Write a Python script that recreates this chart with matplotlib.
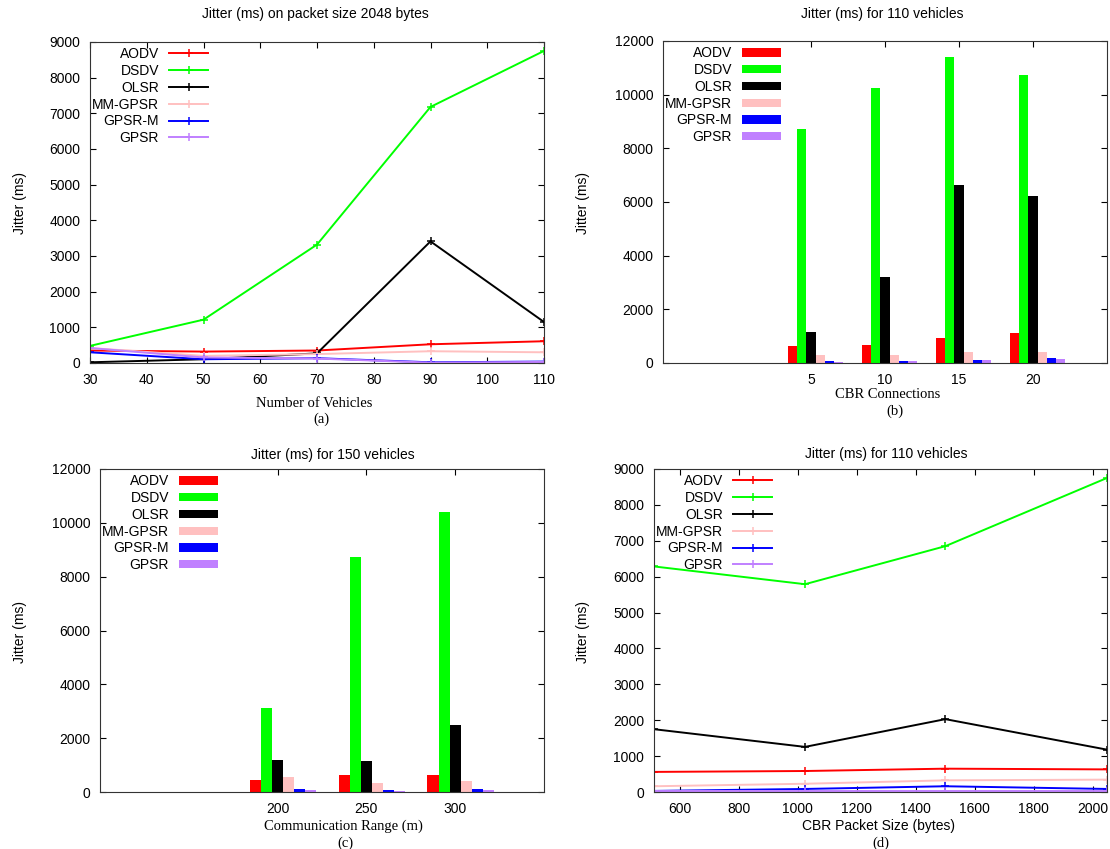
# -*- coding: utf-8 -*-
"""
Jitter comparison of AODV, DSDV, OLSR, MM-GPSR, GPSR-M and GPSR.
Four panels: vehicles, CBR connections, communication range and packet size.
"""

import numpy as np
import matplotlib
matplotlib.use("Agg")
import matplotlib.pyplot as plt

plt.rcParams['font.family'] = ['Liberation Sans', 'DejaVu Sans']
plt.rcParams['font.size'] = 10

protocols = ["AODV", "DSDV", "OLSR", "MM-GPSR", "GPSR-M", "GPSR"]
colors = ["#ff0000", "#00ff00", "#000000", "#ffc0c0", "#0000ff", "#c080ff"]

# (a) jitter vs number of vehicles, packet size 2048 bytes
vehicles = [30, 50, 70, 90, 110]
jitter_vehicles = [
    [350, 320, 350, 525, 610],       # AODV
    [480, 1215, 3320, 7180, 8750],   # DSDV
    [20, 105, 270, 3410, 1150],      # OLSR
    [420, 200, 250, 330, 300],       # MM-GPSR
    [300, 105, 135, 20, 40],         # GPSR-M
    [420, 155, 125, 10, 30],         # GPSR
]

# (b) jitter vs CBR connections, 110 vehicles
connections = ["5", "10", "15", "20"]
jitter_connections = [
    [620, 680, 920, 1130],
    [8720, 10250, 11400, 10745],
    [1150, 3190, 6625, 6230],
    [310, 285, 400, 420],
    [60, 60, 100, 200],
    [30, 90, 125, 135],
]

# (c) jitter vs communication range, 150 vehicles
ranges = ["200", "250", "300"]
jitter_ranges = [
    [435, 645, 645],
    [3125, 8735, 10420],
    [1200, 1165, 2495],
    [570, 335, 410],
    [100, 60, 100],
    [60, 40, 70],
]

# (d) jitter vs CBR packet size, 110 vehicles
packet_sizes = [512, 1024, 1500, 2048]
jitter_packets = [
    [560, 585, 650, 630],
    [6285, 5790, 6850, 8750],
    [1750, 1257, 2030, 1180],
    [160, 230, 325, 345],
    [30, 85, 160, 85],
    [20, 20, 20, 20],
]

W, H = 1110, 849
fig = plt.figure(figsize=(W / 100, H / 100), dpi=100)


def frame(left, top, right, bottom):
    """Axes from pixel edges."""
    ax = fig.add_axes([left / W, 1 - bottom / H, (right - left) / W,
                       (bottom - top) / H])
    for sp in ax.spines.values():
        sp.set_linewidth(0.8)
        sp.set_color("#333333")
    ax.tick_params(direction='in', top=True, right=True, length=4,
                   width=0.8, pad=7, labelsize=10)
    return ax


def put(x, y, s, **kw):
    fig.text(x / W, 1 - y / H, s, ha='center', va='center', **kw)


def legend(ax, **kw):
    ax.legend(loc='upper left', bbox_to_anchor=(0, 0.99), frameon=False,
              markerfirst=False, handlelength=2.85, handletextpad=0.7,
              labelspacing=0.2, borderpad=0.15, borderaxespad=0,
              fontsize=10, **kw)


def lines(ax, x, series):
    for name, vals, c in zip(protocols, series, colors):
        ax.plot(x, vals, color=c, lw=1.4, marker='+', ms=6, mew=1.1,
                label=name)
    legend(ax)


def bars(ax, labels, series):
    idx = np.arange(len(labels))
    width = 0.125
    for i, (name, vals, c) in enumerate(zip(protocols, series, colors)):
        ax.bar(idx + (i - 2) * width, vals, width, color=c, lw=0, label=name)
    ax.set_xticks(idx)
    ax.set_xticklabels(labels)
    legend(ax, handleheight=0.55)


serif = dict(family=['Liberation Serif', 'DejaVu Serif'], fontsize=10.5)

# (a)
ax = frame(90, 42, 544, 363)
lines(ax, vehicles, jitter_vehicles)
ax.set_xlim(30, 110)
ax.set_ylim(0, 9000)
ax.set_yticks(range(0, 9001, 1000))
put(315, 14, "Jitter (ms) on packet size 2048 bytes")
put(20, 203, "Jitter (ms)", rotation=90)
put(314, 403, "Number of Vehicles", **serif)
put(321, 419, "(a)", **serif)

# (b)
ax = frame(663, 41, 1107, 363)
bars(ax, connections, jitter_connections)
ax.set_xlim(-2, 4)
ax.set_ylim(0, 12000)
ax.set_yticks(range(0, 12001, 2000))
put(882, 14, "Jitter (ms) for 110 vehicles")
put(583, 203, "Jitter (ms)", rotation=90)
put(888, 394, "CBR Connections", **serif)
put(895, 411, "(b)", **serif)

# (c)
ax = frame(100, 469, 544, 792)
bars(ax, ranges, jitter_ranges)
ax.set_xlim(-2, 3)
ax.set_ylim(0, 12000)
ax.set_yticks(range(0, 12001, 2000))
put(333, 455, "Jitter (ms) for 150 vehicles")
put(20, 632, "Jitter (ms)", rotation=90)
put(343, 826, "Communication Range (m)", **serif)
put(345, 843, "(c)", **serif)

# (d)
ax = frame(654, 469, 1107, 792)
lines(ax, packet_sizes, jitter_packets)
ax.set_xlim(512, 2048)
ax.set_ylim(0, 9000)
ax.set_xticks(range(600, 2001, 200))
ax.set_yticks(range(0, 9001, 1000))
put(886, 454, "Jitter (ms) for 110 vehicles")
put(583, 632, "Jitter (ms)", rotation=90)
put(879, 826, "CBR Packet Size (bytes)")
put(881, 843, "(d)", **serif)

fig.savefig("out.png", dpi=100, facecolor="white")
